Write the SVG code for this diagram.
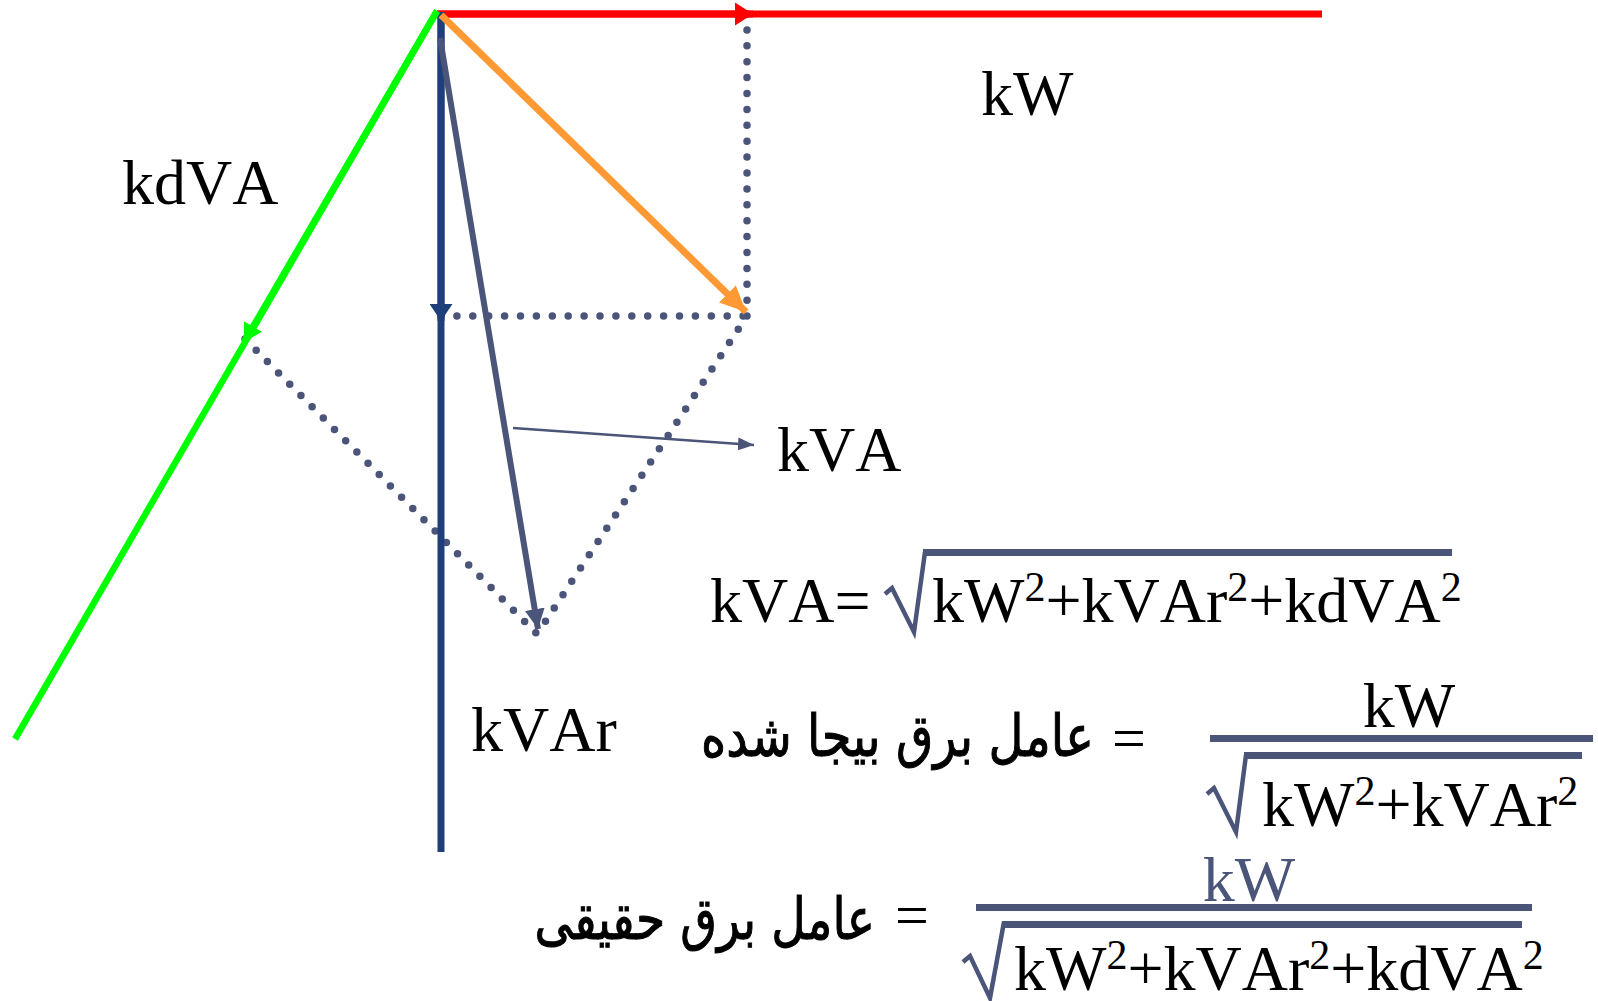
<svg xmlns="http://www.w3.org/2000/svg" width="1598" height="1001" viewBox="0 0 1598 1001">
<style>
.t{font-family:"Liberation Serif","Times New Roman",serif;font-size:64px;fill:#000;font-kerning:none}
.sup{font-size:42px}
.fa{font-family:"DejaVu Sans","Noto Sans",sans-serif;font-size:50px;fill:#000;stroke:#000;stroke-width:0.9}
.eq{font-family:"Liberation Serif",serif;font-size:60px;fill:#000}
.dot{fill:none;stroke:#4B5479;stroke-width:7.5;stroke-dasharray:0 15.9;stroke-linecap:round}
.rad{fill:none;stroke:#4B5479;stroke-linejoin:miter}
.bar{fill:#4B5479}
</style>
<defs>
<marker id="mRed" viewBox="0 0 10 10" preserveAspectRatio="none" refX="10" refY="5" markerUnits="userSpaceOnUse" markerWidth="18" markerHeight="23" orient="auto"><path d="M0,0 L10,5 L0,10 z" fill="#FF0000"/></marker>
<marker id="mBlue" viewBox="0 0 10 10" preserveAspectRatio="none" refX="10" refY="5" markerUnits="userSpaceOnUse" markerWidth="17" markerHeight="23" orient="auto"><path d="M0,0 L10,5 L0,10 z" fill="#1F3F7B"/></marker>
<marker id="mOrange" viewBox="0 0 10 10" preserveAspectRatio="none" refX="10" refY="5" markerUnits="userSpaceOnUse" markerWidth="26" markerHeight="24" orient="auto"><path d="M0,0 L10,5 L0,10 z" fill="#FF9933"/></marker>
<marker id="mGreen" viewBox="0 0 10 10" preserveAspectRatio="none" refX="10" refY="5" markerUnits="userSpaceOnUse" markerWidth="18" markerHeight="21" orient="auto"><path d="M0,0 L10,5 L0,10 z" fill="#00FF00"/></marker>
<marker id="mSlate" viewBox="0 0 10 10" preserveAspectRatio="none" refX="10" refY="5" markerUnits="userSpaceOnUse" markerWidth="20" markerHeight="20" orient="auto"><path d="M0,0 L10,5 L0,10 z" fill="#4B5479"/></marker>
<marker id="mThin" viewBox="0 0 10 10" preserveAspectRatio="none" refX="10" refY="5" markerUnits="userSpaceOnUse" markerWidth="16" markerHeight="13" orient="auto"><path d="M0,0 L10,5 L0,10 z" fill="#4B5479"/></marker>
</defs>

<g id="connectors">
  <!-- dotted construction lines -->
  <line class="dot" x1="747" y1="14" x2="747" y2="316"/>
  <line class="dot" x1="441" y1="316" x2="747" y2="316"/>
  <line class="dot" x1="747" y1="316" x2="537" y2="634"/>
  <line class="dot" x1="245" y1="339" x2="537" y2="634"/>
  <!-- kW (red) -->
  <line x1="437" y1="14" x2="1322" y2="14" stroke="#FF0000" stroke-width="7"/>
  <line x1="437" y1="14" x2="753" y2="14" stroke="#FF0000" stroke-width="7" marker-end="url(#mRed)"/>
  <!-- kVAr (blue) -->
  <line x1="441" y1="12" x2="441" y2="852" stroke="#1F3F7B" stroke-width="7"/>
  <line x1="441" y1="12" x2="441" y2="321" stroke="#1F3F7B" stroke-width="7" marker-end="url(#mBlue)"/>
  <!-- kdVA (green) -->
  <line x1="437" y1="11" x2="15" y2="739" stroke="#00FF00" stroke-width="6.5"/>
  <line x1="437" y1="11" x2="244" y2="342" stroke="#00FF00" stroke-width="6.5" marker-end="url(#mGreen)"/>
  <!-- orange -->
  <line x1="441" y1="15" x2="746" y2="312" stroke="#FF9933" stroke-width="7" marker-end="url(#mOrange)"/>
  <!-- kVA slate -->
  <line x1="440" y1="38" x2="538" y2="629" stroke="#4B5479" stroke-width="6" marker-end="url(#mSlate)"/>
  <!-- pointer -->
  <line x1="513" y1="428" x2="754" y2="445" stroke="#4B5479" stroke-width="2.5" marker-end="url(#mThin)"/>
</g>

<g id="label-kW"><text class="t" x="981" y="115">kW</text></g>
<g id="label-kdVA"><text class="t" x="122" y="204">kdVA</text></g>
<g id="label-kVA"><text class="t" x="777" y="471">kVA</text></g>
<g id="label-kVAr"><text class="t" x="471" y="751">kVAr</text></g>

<g id="formula-kVA">
  <text class="t" x="710" y="622">kVA=</text>
  <path class="rad" stroke-width="4.5" d="M885 594 L892 588 L914 632 L925 552"/>
  <rect class="bar" x="923" y="549" width="529" height="7"/>
  <text class="t" x="932" y="622">kW<tspan class="sup" dy="-21">2</tspan><tspan dy="21">+kVAr</tspan><tspan class="sup" dy="-21">2</tspan><tspan dy="21">+kdVA</tspan><tspan class="sup" dy="-21">2</tspan></text>
</g>

<g id="formula-displacement-pf">
  <text class="fa" x="0" y="0" text-anchor="end" transform="translate(1094 756) scale(0.962 1.15)">عامل برق بیجا شده</text>
  <text class="eq" x="1112" y="758">=</text>
  <text class="t" x="1409" y="727" text-anchor="middle">kW</text>
  <rect class="bar" x="1210" y="735" width="383" height="7"/>
  <path class="rad" stroke-width="4.5" d="M1207 794 L1214 788 L1236 832 L1246 755"/>
  <rect class="bar" x="1244" y="752" width="338" height="7"/>
  <text class="t" x="1262" y="826">kW<tspan class="sup" dy="-21">2</tspan><tspan dy="21">+kVAr</tspan><tspan class="sup" dy="-21">2</tspan></text>
</g>

<g id="formula-true-pf">
  <text class="fa" x="0" y="0" text-anchor="end" transform="translate(875 939) scale(0.946 1.15)">عامل برق حقیقی</text>
  <text class="eq" x="895" y="935">=</text>
  <text class="t" x="1249" y="901" text-anchor="middle" style="fill:#4B5479">kW</text>
  <rect class="bar" x="976" y="904" width="556" height="7"/>
  <path class="rad" stroke-width="4.5" d="M963 962 L970 956 L990 998 L1004 922"/>
  <rect class="bar" x="1002" y="921" width="520" height="7"/>
  <text class="t" x="1014" y="990">kW<tspan class="sup" dy="-21">2</tspan><tspan dy="21">+kVAr</tspan><tspan class="sup" dy="-21">2</tspan><tspan dy="21">+kdVA</tspan><tspan class="sup" dy="-21">2</tspan></text>
</g>
</svg>
